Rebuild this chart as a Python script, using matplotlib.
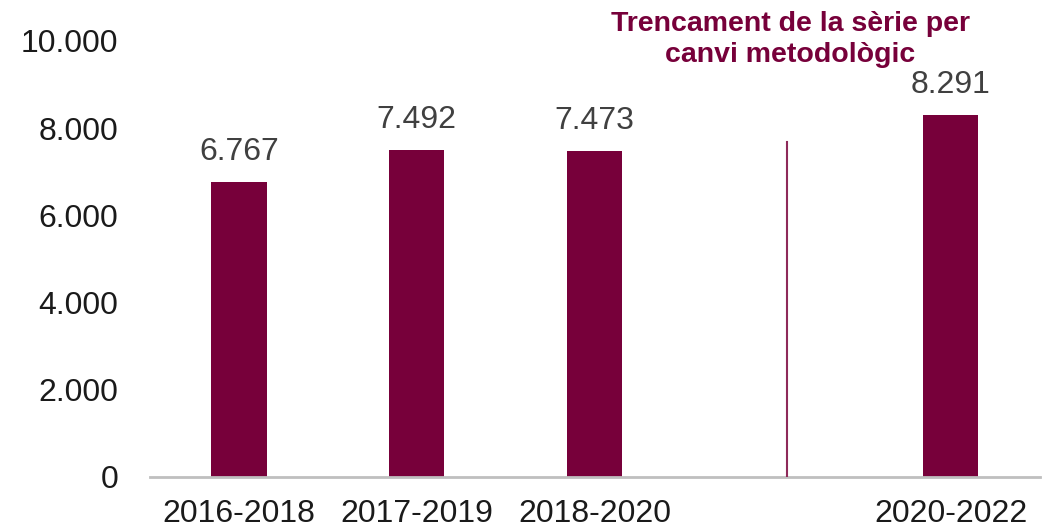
import numpy as np
import matplotlib
matplotlib.use("Agg")
import matplotlib.pyplot as plt

periods = ["2016-2018", "2017-2019", "2018-2020", "", "2020-2022"]
values = [6767, 7492, 7473, np.nan, 8291]
y_ticks = [0, 2000, 4000, 6000, 8000, 10000]
break_note = "Trencament de la sèrie per\ncanvi metodològic"

maroon = "#77003A"


def fmt(v):
    return "{:,.0f}".format(v).replace(",", ".")


def main():
    plt.rcParams["font.family"] = ["Liberation Sans", "DejaVu Sans"]
    fig = plt.figure(figsize=(10.49, 5.30), dpi=100)
    ax = fig.add_axes([0.143, 0.1, 0.848, 0.823])

    x = np.arange(len(periods))
    vals = np.array(values, dtype=float)
    mask = ~np.isnan(vals)
    ax.bar(x[mask], vals[mask], width=0.31, color=maroon, zorder=2)

    for xi, v in zip(x[mask], vals[mask]):
        ax.annotate(fmt(v), (xi, v), xytext=(0, 11), textcoords="offset points",
                    ha="center", va="bottom", fontsize=23, color="#404040")

    # series break marker
    ax.plot([3.08, 3.08], [0, 7680], color="#8E2A5A", lw=1.5, zorder=3)
    ax.text(3.1, 10030, break_note, ha="center", va="center", fontsize=20.5,
            fontweight="bold", color=maroon, linespacing=1.25, clip_on=False)

    ax.set_xlim(-0.5, 4.5)
    ax.set_ylim(0, 10000)
    ax.set_xticks(x)
    ax.set_xticklabels(periods)
    ax.set_yticks(y_ticks)
    ax.set_yticklabels([fmt(t) for t in y_ticks])
    ax.tick_params(axis="both", length=0, labelsize=23, colors="#1a1a1a")
    ax.tick_params(axis="y", pad=23)
    ax.tick_params(axis="x", pad=16)

    for s in ["top", "right", "left"]:
        ax.spines[s].set_visible(False)
    ax.spines["bottom"].set_color("#BFBFBF")
    ax.spines["bottom"].set_linewidth(2)

    fig.savefig("out.png", dpi=100)


if __name__ == "__main__":
    main()
